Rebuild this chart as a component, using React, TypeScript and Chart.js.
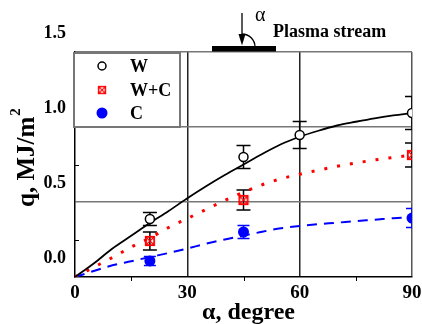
import React, { useEffect, useRef } from 'react';
import { Chart, registerables } from 'chart.js';

Chart.register(...registerables);

// ---- data ----
const curveAngles = [0, 5, 10, 15, 20, 25, 30, 35, 40, 45, 50, 55, 60, 65, 70, 75, 80, 85, 90];
const curveW = [0, 0.09, 0.19, 0.275, 0.36, 0.44, 0.525, 0.605, 0.68, 0.75, 0.82, 0.885, 0.935, 0.975, 1.01, 1.035, 1.058, 1.077, 1.093];
const curveWC = [0, 0.065, 0.13, 0.2, 0.26, 0.33, 0.39, 0.45, 0.51, 0.565, 0.615, 0.655, 0.685, 0.712, 0.738, 0.76, 0.78, 0.797, 0.812];
const curveC = [0, 0.04, 0.078, 0.105, 0.133, 0.16, 0.19, 0.222, 0.25, 0.275, 0.302, 0.325, 0.34, 0.352, 0.362, 0.373, 0.382, 0.392, 0.4];

const wAngles = [20, 45, 60, 90];
const wValues = [0.387, 0.8, 0.947, 1.093];
const wErrors = [0.043, 0.077, 0.09, 0.11];

const wcAngles = [20, 45, 90];
const wcValues = [0.24, 0.513, 0.813];
const wcErrors = [0.06, 0.067, 0.08];

const cAngles = [20, 45, 90];
const cValues = [0.107, 0.3, 0.393];
const cErrors = [0.03, 0.043, 0.063];

const xTicks = [0, 30, 60, 90];
const yTickLabels = ['0.0', '0.5', '1.0', '1.5'];
const legendLabels = ['W', 'W+C', 'C'];

const SERIF = "'Liberation Serif', 'Times New Roman', serif";

function makeCrossSquare(): HTMLCanvasElement {
  const c = document.createElement('canvas');
  c.width = 12;
  c.height = 12;
  const g = c.getContext('2d')!;
  g.strokeStyle = '#ff0000';
  g.lineWidth = 1.2;
  g.strokeRect(1.5, 1.5, 9, 9);
  g.beginPath();
  g.moveTo(1.5, 1.5); g.lineTo(10.5, 10.5);
  g.moveTo(10.5, 1.5); g.lineTo(1.5, 10.5);
  g.stroke();
  g.beginPath();
  g.arc(6, 6, 4, 0, Math.PI * 2);
  g.stroke();
  return c;
}

export default function App() {
  const ref = useRef<HTMLCanvasElement>(null);

  useEffect(() => {
    const canvas = ref.current!;
    const crossSq = makeCrossSquare();
    const toPts = (xs: number[], ys: number[]) => xs.map((x, i) => ({ x, y: ys[i] }));

    const decor = {
      id: 'decor',
      beforeDatasetsDraw(chart: any) {
        const { ctx, chartArea: a, scales } = chart;
        const x = scales.x, y = scales.y;
        ctx.save();
        ctx.beginPath();
        ctx.rect(a.left, a.top, a.right - a.left, a.bottom - a.top);
        ctx.clip();
        const drawErr = (xs: number[], vs: number[], es: number[], color: string, cap: number) => {
          ctx.strokeStyle = color;
          ctx.lineWidth = 1.5;
          xs.forEach((xv, i) => {
            const px = x.getPixelForValue(xv);
            const top = y.getPixelForValue(vs[i] + es[i]);
            const bot = y.getPixelForValue(vs[i] - es[i]);
            ctx.beginPath();
            ctx.moveTo(px, top); ctx.lineTo(px, bot);
            ctx.moveTo(px - cap, top); ctx.lineTo(px + cap, top);
            ctx.moveTo(px - cap, bot); ctx.lineTo(px + cap, bot);
            ctx.stroke();
          });
        };
        drawErr(wAngles, wValues, wErrors, '#000', 7);
        drawErr(wcAngles, wcValues, wcErrors, '#000', 7);
        drawErr(cAngles, cValues, cErrors, '#0000ff', 6);
        ctx.restore();
      },
      afterDraw(chart: any) {
        const { ctx, chartArea: a, scales } = chart;
        const x = scales.x, y = scales.y;
        ctx.save();
        // minor ticks
        ctx.strokeStyle = '#000';
        ctx.lineWidth = 1;
        [0.25, 0.75, 1.25].forEach((v) => {
          const py = Math.round(y.getPixelForValue(v)) + 0.5;
          ctx.beginPath(); ctx.moveTo(a.left, py); ctx.lineTo(a.left + 4, py); ctx.stroke();
        });
        [15, 45, 75].forEach((v) => {
          const px = Math.round(x.getPixelForValue(v)) + 0.5;
          ctx.beginPath(); ctx.moveTo(px, a.bottom); ctx.lineTo(px, a.bottom + 4); ctx.stroke();
        });

        // legend box
        const lx = a.left - 1, ly = a.top + 1, lw = 106, lh = y.getPixelForValue(1.0) - ly;
        ctx.fillStyle = '#fff';
        ctx.fillRect(lx, ly, lw, lh);
        ctx.strokeStyle = '#777';
        ctx.lineWidth = 2;
        ctx.strokeRect(lx, ly, lw, lh);
        const symX = lx + 28;
        const rows = [ly + 13, ly + 37, ly + 60];
        // W symbol
        ctx.beginPath();
        ctx.arc(symX, rows[0], 4, 0, Math.PI * 2);
        ctx.fillStyle = '#fff'; ctx.fill();
        ctx.strokeStyle = '#000'; ctx.lineWidth = 1.5; ctx.stroke();
        // W+C symbol
        ctx.drawImage(crossSq, symX - 5, rows[1] - 5, 10, 10);
        // C symbol
        ctx.beginPath();
        ctx.arc(symX, rows[2], 5.5, 0, Math.PI * 2);
        ctx.fillStyle = '#0000ff'; ctx.fill();
        ctx.fillStyle = '#000';
        ctx.font = `bold 18px ${SERIF}`;
        ctx.textAlign = 'left';
        ctx.textBaseline = 'middle';
        legendLabels.forEach((t, i) => ctx.fillText(t, lx + 56, rows[i] + 1));

        // Plasma stream annotation
        ctx.fillStyle = '#000';
        ctx.fillRect(212, 46, 64, 5.5);
        ctx.strokeStyle = '#000';
        ctx.lineWidth = 1.3;
        ctx.beginPath(); ctx.moveTo(242, 13); ctx.lineTo(242, 38); ctx.stroke();
        ctx.beginPath(); ctx.moveTo(238.5, 34); ctx.lineTo(245.5, 34); ctx.lineTo(242, 45.5); ctx.closePath(); ctx.fill();
        ctx.beginPath(); ctx.arc(242, 47, 13, -Math.PI / 2, 0); ctx.stroke();
        ctx.font = `20px ${SERIF}`;
        ctx.fillText('α', 255, 16);
        ctx.font = `bold 18px ${SERIF}`;
        ctx.fillText('Plasma stream', 273, 32);

        // axis titles
        ctx.font = `bold 24px ${SERIF}`;
        ctx.textAlign = 'center';
        ctx.textBaseline = 'alphabetic';
        ctx.fillText('α, degree', (a.left + a.right) / 2 + 5, 319);

        ctx.save();
        ctx.translate(34, 207);
        ctx.rotate(-Math.PI / 2);
        ctx.textAlign = 'left';
        ctx.font = `bold 25px ${SERIF}`;
        const main = 'q, MJ/m';
        ctx.fillText(main, 0, 0);
        const w = ctx.measureText(main).width;
        ctx.font = `bold 15px ${SERIF}`;
        ctx.fillText('2', w + 1, -14);
        ctx.restore();

        ctx.restore();
      },
    };

    const chart = new Chart(canvas, {
      type: 'scatter',
      data: {
        datasets: [
          {
            label: 'W', data: toPts(wAngles, wValues), showLine: false,
            pointStyle: 'circle', pointRadius: 4.5, borderColor: '#000', backgroundColor: '#fff', borderWidth: 1.5, clip: 0,
          },
          {
            label: 'W+C', data: toPts(wcAngles, wcValues), showLine: false,
            pointStyle: crossSq as any, pointRadius: 6, clip: 0,
          },
          {
            label: 'C', data: toPts(cAngles, cValues), showLine: false,
            pointStyle: 'circle', pointRadius: 5.5, borderColor: '#0000ff', backgroundColor: '#0000ff', borderWidth: 0, clip: 0,
          },
          {
            label: 'W fit', data: toPts(curveAngles, curveW), showLine: true, pointRadius: 0,
            borderColor: '#000', borderWidth: 1.8, cubicInterpolationMode: 'monotone', clip: 0,
          },
          {
            label: 'W+C fit', data: toPts(curveAngles, curveWC), showLine: true, pointRadius: 0,
            borderColor: '#ff0000', borderWidth: 3, borderDash: [3, 10], cubicInterpolationMode: 'monotone', clip: 0,
          },
          {
            label: 'C fit', data: toPts(curveAngles, curveC), showLine: true, pointRadius: 0,
            borderColor: '#0000ff', borderWidth: 2, borderDash: [10, 7], cubicInterpolationMode: 'monotone', clip: 0,
          },
        ] as any,
      },
      options: {
        animation: false,
        responsive: false,
        events: [],
        layout: { padding: { top: 52, right: 10, left: 0, bottom: 0 } },
        plugins: { legend: { display: false }, tooltip: { enabled: false } },
        scales: {
          x: {
            type: 'linear', min: 0, max: 90,
            afterBuildTicks: (s: any) => { s.ticks = xTicks.map((v) => ({ value: v })); },
            afterFit: (s: any) => { s.height = 47; s.paddingLeft = 0; s.paddingRight = 0; },
            ticks: { color: '#000', font: { family: SERIF, size: 19, weight: 'bold' }, padding: 5, maxRotation: 0 },
            grid: {
              drawTicks: false,
              lineWidth: 1.5,
              color: (c: any) => (c.tick && c.tick.value === 0 ? 'rgba(0,0,0,0)' : c.tick && c.tick.value === 90 ? '#555' : '#222'),
            },
            border: { display: true, color: '#000', width: 1.5 },
          },
          y: {
            type: 'linear', min: 0, max: 1.5,
            afterBuildTicks: (s: any) => { s.ticks = yTickLabels.map((t) => ({ value: parseFloat(t) })); },
            afterFit: (s: any) => { s.width = 75; s.paddingTop = 0; s.paddingBottom = 0; },
            ticks: {
              color: '#000', font: { family: SERIF, size: 18, weight: 'bold' }, padding: 9, labelOffset: -19,
              callback: (v: any) => yTickLabels.find((t) => parseFloat(t) === v) ?? '',
            },
            grid: {
              drawTicks: false,
              lineWidth: 1.5,
              color: (c: any) => (c.tick && c.tick.value === 0 ? 'rgba(0,0,0,0)' : '#777'),
            },
            border: { display: true, color: '#000', width: 1.5 },
          },
        },
      } as any,
      plugins: [decor],
    });
    return () => chart.destroy();
  }, []);

  return (
    <div style={{ position: 'fixed', left: 0, top: 0, width: 422, height: 324, background: '#fff' }}>
      <canvas ref={ref} width={422} height={324} style={{ width: 422, height: 324, display: 'block' }} />
    </div>
  );
}
